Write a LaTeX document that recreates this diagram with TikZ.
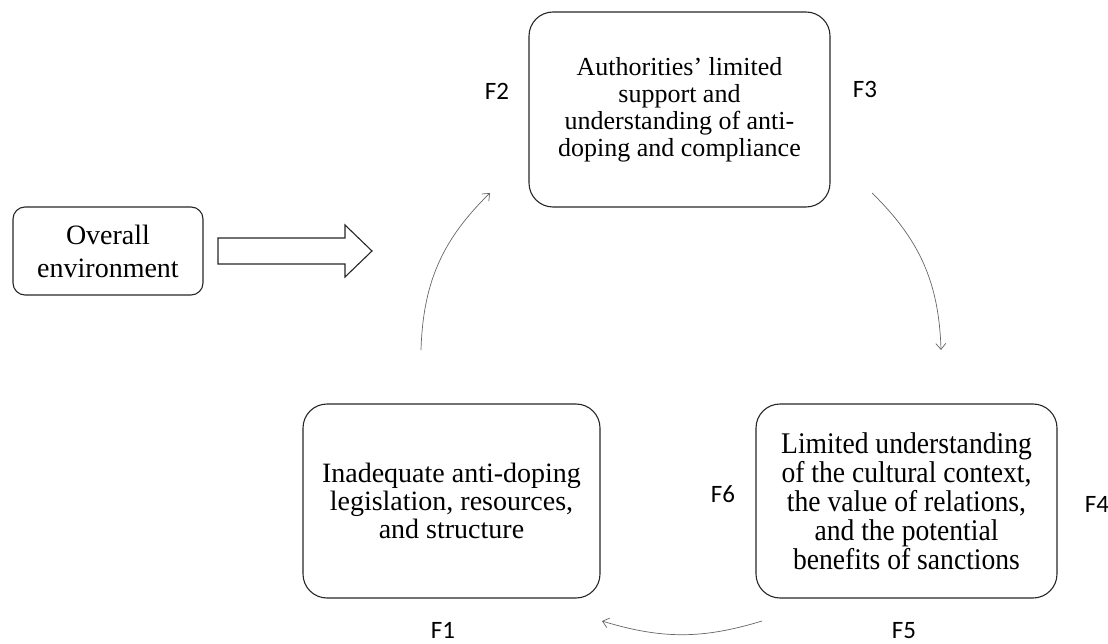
\documentclass[tikz,border=0pt]{standalone}
\usepackage{fontspec}
\setmainfont{Liberation Serif}
\newfontfamily\narrowserif[FakeStretch=0.92]{Liberation Serif}
\newfontfamily\labelfont{Carlito}
\usetikzlibrary{arrows.meta}
\begin{document}
\begin{tikzpicture}[x=1pt,y=-1pt,
  box/.style={draw=black!85, line width=1.1pt, rounded corners=24pt, align=center,
    inner sep=0pt},
  flabel/.style={font=\labelfont\fontsize{25}{27}\selectfont, text=black, anchor=base, inner sep=0pt},
  flow/.style={draw=black!60, line width=0.7pt, -{Straight Barb[length=6pt,width=10pt]}}]
  \useasboundingbox (0,0) rectangle (1108,644);

  % boxes
  \node[box, rounded corners=12pt, minimum width=190pt, minimum height=88pt,
        font=\fontsize{28}{33}\selectfont] (env) at (108,251) {Overall\\environment};
  \node[box, minimum width=301pt, minimum height=195pt,
        font=\fontsize{26}{27}\selectfont] (f23) at (679.5,109.5)
    {Authorities' limited\\support and\\understanding of anti-\\doping and compliance};
  \node[box, minimum width=297pt, minimum height=194pt,
        font=\fontsize{28}{28.3}\selectfont] (f1) at (451.5,501)
    {Inadequate anti-doping\\legislation, resources,\\and structure};
  \node[box, minimum width=301pt, minimum height=194pt,
        font=\narrowserif\fontsize{30}{29}\selectfont] (f456) at (906.5,501)
    {Limited understanding\\of the cultural context,\\the value of relations,\\and the potential\\benefits of sanctions};

  % block arrow from the environment
  \draw[draw=black!85, line width=1.1pt, fill=white]
    (218,238) -- (345,238) -- (345,225) -- (372,251) -- (345,277) -- (345,264) -- (218,264) -- cycle;

  % factor labels
  \node[flabel] (F1) at (443,638) {F1};
  \node[flabel] (F2) at (497,100) {F2};
  \node[flabel] (F3) at (865,98) {F3};
  \node[flabel] (F4) at (1097,512) {F4};
  \node[flabel] (F5) at (904,638) {F5};
  \node[flabel] (F6) at (723,502) {F6};

  % cycle arrows
  \coordinate (a1) at (421,350);
  \coordinate (b1) at (490,193);
  \coordinate (a2) at (872,193);
  \coordinate (b2) at (941,350);
  \coordinate (a3) at (762,621);
  \coordinate (b3) at (602,621);
  \draw[flow] (a1) to[bend left=22] (b1);
  \draw[flow] (a2) to[bend left=22] (b2);
  \draw[flow] (a3) to[bend left=17] (b3);
\end{tikzpicture}
\end{document}
